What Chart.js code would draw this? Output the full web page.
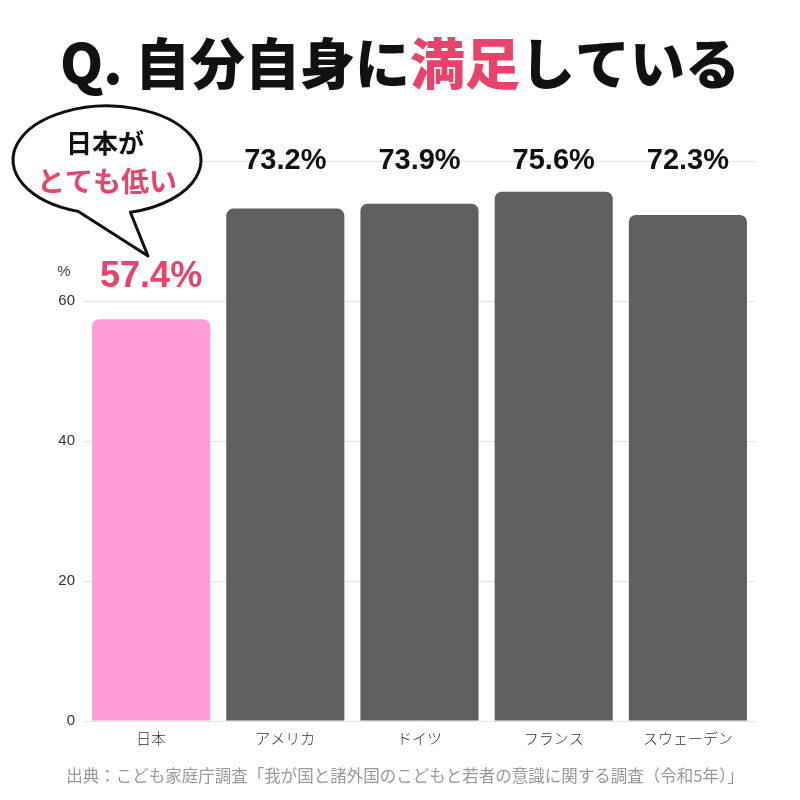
<!DOCTYPE html>
<html>
<head>
<meta charset="utf-8">
<script src="https://cdn.jsdelivr.net/npm/chart.js@4/dist/chart.umd.min.js"></script>
<style>
  html, body { margin: 0; padding: 0; background: #fff; }
  canvas { display: block; }
</style>
</head>
<body>
<canvas id="satisfied_chart" width="800" height="800"></canvas>
<script>
const countries = ['日本', 'アメリカ', 'ドイツ', 'フランス', 'スウェーデン'];
const satisfied = [57.4, 73.2, 73.9, 75.6, 72.3];
const y_ticks = [0, 20, 40, 60, 80];

const pink_bar = '#fe9cd9';
const gray_bar = '#615e61';
const red_text = '#e8436a';

// title, bubble, value labels and source drawn on the canvas
const decor_plugin = {
  id: 'decor',
  afterDraw(chart) {
    const ctx = chart.ctx;
    const meta = chart.getDatasetMeta(0);
    const yScale = chart.scales.y;
    ctx.save();

    // title with the red part
    ctx.textBaseline = 'middle';
    ctx.font = '900 55px "Noto Sans CJK JP"';
    const parts = [['Q. 自分自身に', '#111'], ['満足', red_text], ['している', '#111']];
    let total = 0;
    parts.forEach(p => total += ctx.measureText(p[0]).width);
    let x = 400 - total / 2;
    parts.forEach(p => {
      ctx.fillStyle = p[1];
      ctx.textAlign = 'left';
      ctx.fillText(p[0], x, 63);
      x += ctx.measureText(p[0]).width;
    });

    // value labels
    ctx.textAlign = 'center';
    meta.data.forEach((bar, i) => {
      if (i === 0) {
        ctx.font = 'bold 36px "Liberation Sans"';
        ctx.fillStyle = red_text;
        ctx.fillText(satisfied[i] + '%', bar.x, bar.y - 42);
      } else {
        ctx.font = 'bold 29px "Liberation Sans"';
        ctx.fillStyle = '#111';
        ctx.fillText(satisfied[i] + '%', bar.x, yScale.getPixelForValue(80));
      }
    });

    // unit
    ctx.font = '15px "Liberation Sans"';
    ctx.fillStyle = '#444';
    ctx.fillText('%', 64, 272);

    // speech bubble
    ctx.beginPath();
    ctx.ellipse(107, 160, 94, 54, 0, Math.PI * 0.6, Math.PI * 0.42, false);
    ctx.lineTo(148, 256);
    ctx.closePath();
    ctx.fillStyle = '#fff';
    ctx.fill();
    ctx.lineWidth = 3;
    ctx.strokeStyle = '#111';
    ctx.lineJoin = 'round';
    ctx.stroke();

    ctx.font = 'bold 26px "Noto Sans CJK JP"';
    ctx.fillStyle = '#111';
    ctx.fillText('日本が', 105, 143);
    ctx.font = 'bold 28px "Noto Sans CJK JP"';
    ctx.fillStyle = red_text;
    ctx.fillText('とても低い', 107, 181);

    // source
    ctx.font = '16.5px "Noto Sans CJK JP"';
    ctx.fillStyle = '#999';
    ctx.fillText('出典：こども家庭庁調査「我が国と諸外国のこどもと若者の意識に関する調査（令和5年）」', 405, 776);

    ctx.restore();
  }
};

const satisfied_ctx = document.getElementById('satisfied_chart');

const satisfied_config = {
  type: 'bar',
  data: {
    labels: countries,
    datasets: [{
      data: satisfied,
      backgroundColor: countries.map((c, i) => i === 0 ? pink_bar : gray_bar),
      borderRadius: { topLeft: 7, topRight: 7, bottomLeft: 0, bottomRight: 0 },
      borderSkipped: 'bottom',
      categoryPercentage: 1,
      barPercentage: 0.88
    }]
  },
  options: {
    responsive: false,
    animation: false,
    devicePixelRatio: 1,
    layout: { padding: { top: 161, right: 45, left: 0, bottom: 0 } },
    plugins: {
      legend: { display: false },
      tooltip: { enabled: false }
    },
    scales: {
      x: {
        grid: { display: false, drawTicks: false },
        border: { display: false },
        ticks: {
          color: '#333',
          padding: 8,
          font: { family: '"Noto Sans CJK JP"', size: 15, weight: 300 }
        },
        afterFit(scale) { scale.height = 79; }
      },
      y: {
        min: 0,
        max: 80,
        afterBuildTicks(scale) { scale.ticks = y_ticks.map(v => ({ value: v })); },
        grid: { color: '#e4e4e4', lineWidth: 1, drawTicks: false },
        border: { display: false },
        ticks: {
          color: '#333',
          padding: 9,
          font: { family: '"Liberation Sans"', size: 15 }
        },
        afterFit(scale) { scale.width = 84; }
      }
    }
  },
  plugins: [decor_plugin]
};

const satisfied_chart = new Chart(satisfied_ctx, satisfied_config);
</script>
</body>
</html>
